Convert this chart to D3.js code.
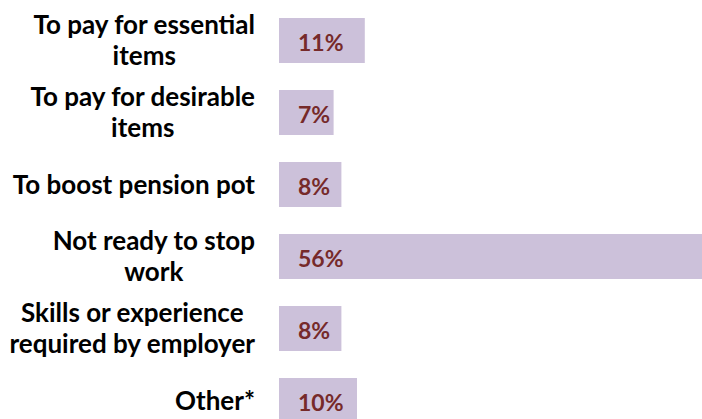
<!DOCTYPE html>
<html>
<head>
<meta charset="utf-8">
<script src="https://cdn.jsdelivr.net/npm/d3@7"></script>
<style>
  html, body { margin: 0; padding: 0; background: #ffffff; overflow: hidden; }
  svg { display: block; }
</style>
</head>
<body>
<svg id="chart" width="702" height="419"></svg>
<script>
// Data
const categories = [
  ["To pay for essential", "items"],
  ["To pay for desirable", "items"],
  ["To boost pension pot"],
  ["Not ready to stop", "work"],
  ["Skills or experience", "required by employer"],
  ["Other*"]
];
const values = [11, 7, 8, 56, 8, 10];
const valueLabels = ["11%", "7%", "8%", "56%", "8%", "10%"];

const W = 702, H = 419;
const svg = d3.select("#chart");

const x0 = 279;
const x = d3.scaleLinear().domain([0, 56]).range([x0, x0 + 56 * 7.8]);
const ids = categories.map((d, i) => i);
const y = d3.scaleBand().domain(ids).range([4.5, 4.5 + 72 * 6]).paddingInner(0.375).paddingOuter(0.1875);

svg.selectAll("rect.bar")
  .data(values)
  .enter().append("rect")
  .attr("class", "bar")
  .attr("x", x(0))
  .attr("y", (d, i) => y(i))
  .attr("width", d => x(d) - x(0))
  .attr("height", y.bandwidth())
  .attr("fill", "#ccc1da");

svg.selectAll("text.val")
  .data(valueLabels)
  .enter().append("text")
  .attr("class", "val")
  .attr("x", x(0) + 19)
  .attr("y", (d, i) => y(i) + y.bandwidth() / 2 + 2)
  .attr("dy", "0.36em")
  .attr("font-family", "Lato, 'Open Sans', sans-serif")
  .attr("font-weight", "bold")
  .attr("font-size", 23)
  .attr("fill", "#762a2a")
  .text(d => d);

const labelRight = 255;
const lineH = 31;
categories.forEach((lines, i) => {
  const g = svg.append("g");
  const cy = y(i) + y.bandwidth() / 2;
  const n = lines.length;
  const texts = lines.map((ln, j) => g.append("text")
    .attr("font-family", "Lato, 'Open Sans', sans-serif")
    .attr("font-weight", "bold")
    .attr("font-size", 26)
    .attr("fill", "#000000")
    .attr("text-anchor", "middle")
    .attr("y", cy + (j - (n - 1) / 2) * lineH)
    .attr("dy", "0.36em")
    .text(ln));
  const maxW = d3.max(texts, t => t.node().getComputedTextLength());
  texts.forEach(t => t.attr("x", labelRight - maxW / 2));
});
</script>
</body>
</html>
